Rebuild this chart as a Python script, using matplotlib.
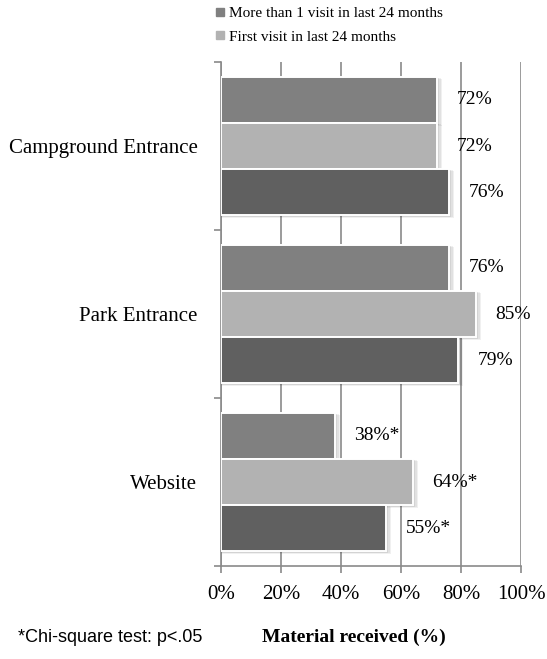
import numpy as np
import matplotlib
matplotlib.use("Agg")
from matplotlib import pyplot as plt
from matplotlib.patches import Rectangle
from matplotlib.lines import Line2D

# data
categories = ['Campground Entrance', 'Park Entrance', 'Website']
more_than_one = [72, 76, 38]
first_visit = [72, 85, 64]
third_series = [76, 79, 55]
sig = [False, False, True]
series_names = ['More than 1 visit in last 24 months', 'First visit in last 24 months']
xticks = [0, 20, 40, 60, 80, 100]

colors = ['#808080', '#b2b2b2', '#606060']
grid_col = '#8a8a8a'
serif = ['Liberation Serif', 'DejaVu Serif']

fig = plt.figure(figsize=(5.47, 6.59), dpi=100)
ax = fig.add_axes([221 / 547, 1 - 566 / 659, 300 / 547, 504 / 659])

bh = 0.274
centers = np.arange(len(categories))
offsets = [-bh, 0, bh]
all_series = [more_than_one, first_visit, third_series]

for k, (vals, off) in enumerate(zip(all_series, offsets)):
    ys = centers + off
    # soft shadow, a few layers to fake blur
    for y, v in zip(ys, vals):
        for g in [0.4, 0.8, 1.2, 1.6]:
            ax.add_patch(Rectangle((0, y - bh / 2 + 0.007 * g), v + g, bh + 0.005 * g,
                                   facecolor='#000000', alpha=0.06, edgecolor='none', zorder=2))
    ax.barh(ys, vals, height=bh, color=colors[k], edgecolor='white', linewidth=1.4, zorder=3)
    for y, v, s in zip(ys, vals, sig):
        lab = f'{v}%' + ('*' if s else '')
        ax.annotate(lab, (v, y), xytext=(14, 0), textcoords='offset points',
                    ha='left', va='center', fontsize=14, family=serif, zorder=4)

ax.set_xlim(0, 100)
ax.set_ylim(2.5, -0.5)
ax.set_xticks(xticks)
ax.set_xticklabels([f'{t}%' for t in xticks], family=serif, fontsize=15)
ax.set_yticks(centers)
ax.set_yticklabels(categories, family=serif, fontsize=15)
ax.set_yticks([-0.5, 0.5, 1.5, 2.5], minor=True)
ax.tick_params(axis='y', which='major', length=0, pad=17)
ax.tick_params(axis='y', which='minor', length=5, color=grid_col, width=1.2)
ax.tick_params(axis='x', length=5, color=grid_col, width=1.2, pad=9)
ax.grid(axis='x', color=grid_col, linewidth=1.2, zorder=0)
ax.set_axisbelow(True)
for sp in ['top', 'right']:
    ax.spines[sp].set_visible(False)
for sp in ['left', 'bottom']:
    ax.spines[sp].set_color(grid_col)
    ax.spines[sp].set_linewidth(1.2)

handles = [Line2D([], [], marker='s', linestyle='none', markersize=6, color=c) for c in colors[:2]]
fig.legend(handles, series_names, loc='upper left', bbox_to_anchor=(206 / 547, 0.999),
           frameon=False, prop={'family': serif, 'size': 11}, handletextpad=0.1,
           labelspacing=0.62, borderaxespad=0, handlelength=1.0)

fig.text(18 / 547, 1 - 637 / 659, '*Chi-square test: p<.05', family=['Liberation Sans', 'DejaVu Sans'],
         fontsize=13, va='center')
fig.text(262 / 547, 1 - 637 / 659, 'Material received (%)', family=serif, fontweight='bold',
         fontsize=14, va='center')

fig.savefig('out.png', dpi=100)
